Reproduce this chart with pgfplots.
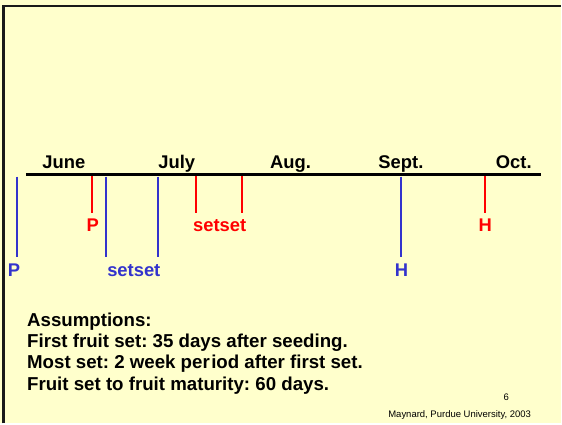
\documentclass[border=0pt]{standalone}
\usepackage{pgfplots}
\pgfplotsset{compat=1.18}
\usepackage{fontspec}
\setmainfont{Liberation Sans}
\definecolor{bgyel}{HTML}{FFFFCC}
\definecolor{pblue}{HTML}{3333CC}
\definecolor{pred}{HTML}{FF0000}
\frenchspacing
\tikzset{lab/.style={font=\fontsize{18.4}{21}\selectfont\bfseries},
         txt/.style={font=\fontsize{18.7}{21}\selectfont\bfseries}}
\begin{document}
\begin{tikzpicture}
\begin{axis}[
  width=562pt, height=424pt, scale only axis,
  xmin=0, xmax=562, ymin=0, ymax=424, y dir=reverse,
  axis lines=none, ticks=none,
  axis background/.style={fill=bgyel},
  clip=false,
  unbounded coords=jump,
]
% slide border
\addplot[black!90, line width=2.6pt] coordinates {(3.3,424) (3.3,6.2) (561.5,6.2)};
% timeline
\addplot[black, line width=3pt] coordinates {(26,174.3) (542,174.3)};
% red lines
\addplot[pred, line width=2pt] coordinates {(92,176) (92,213) (nan,nan) (196,176) (196,213) (nan,nan) (242,176) (242,213) (nan,nan) (486,176) (486,213)};
% blue lines
\addplot[pblue, line width=2pt] coordinates {(17,177) (17,257) (nan,nan) (106,177) (106,257) (nan,nan) (158,177) (158,257) (nan,nan) (402,177) (402,257)};
% month labels
\node[lab, anchor=base] at (axis cs:64,169) {June};
\node[lab, anchor=base] at (axis cs:177,169) {July};
\node[lab, anchor=base] at (axis cs:291,169) {Aug.};
\node[lab, anchor=base] at (axis cs:401.5,169) {Sept.};
\node[lab, anchor=base] at (axis cs:514.5,169) {Oct.};
% red labels
\node[lab, anchor=base, text=pred] at (axis cs:93,232) {P};
\node[lab, anchor=base, text=pred] at (axis cs:220,232) {setset};
\node[lab, anchor=base, text=pred] at (axis cs:486,232) {H};
% blue labels
\node[lab, anchor=base, text=pblue] at (axis cs:14,277) {P};
\node[lab, anchor=base, text=pblue] at (axis cs:134,277) {setset};
\node[lab, anchor=base, text=pblue] at (axis cs:402,277) {H};
% assumptions
\node[txt, anchor=base west, inner sep=0pt] at (axis cs:27,326.7) {Assumptions:};
\node[txt, anchor=base west, inner sep=0pt] at (axis cs:27,348) {First fruit set: 35 days after seeding.};
\node[txt, anchor=base west, inner sep=0pt] at (axis cs:27,369.5) {Most set: 2 week per\kern1.5pt iod after first set.};
\node[txt, anchor=base west, inner sep=0pt] at (axis cs:27,391) {Fruit set to fruit maturity: 60 days.};
% footer
\node[anchor=base, inner sep=0pt, font=\fontsize{9.5}{11}\selectfont] at (axis cs:507,401) {6};
\node[anchor=base east, inner sep=0pt, font=\fontsize{9.5}{11}\selectfont] at (axis cs:532,418) {Maynard, Purdue University, 2003};
\end{axis}
\end{tikzpicture}
\end{document}
